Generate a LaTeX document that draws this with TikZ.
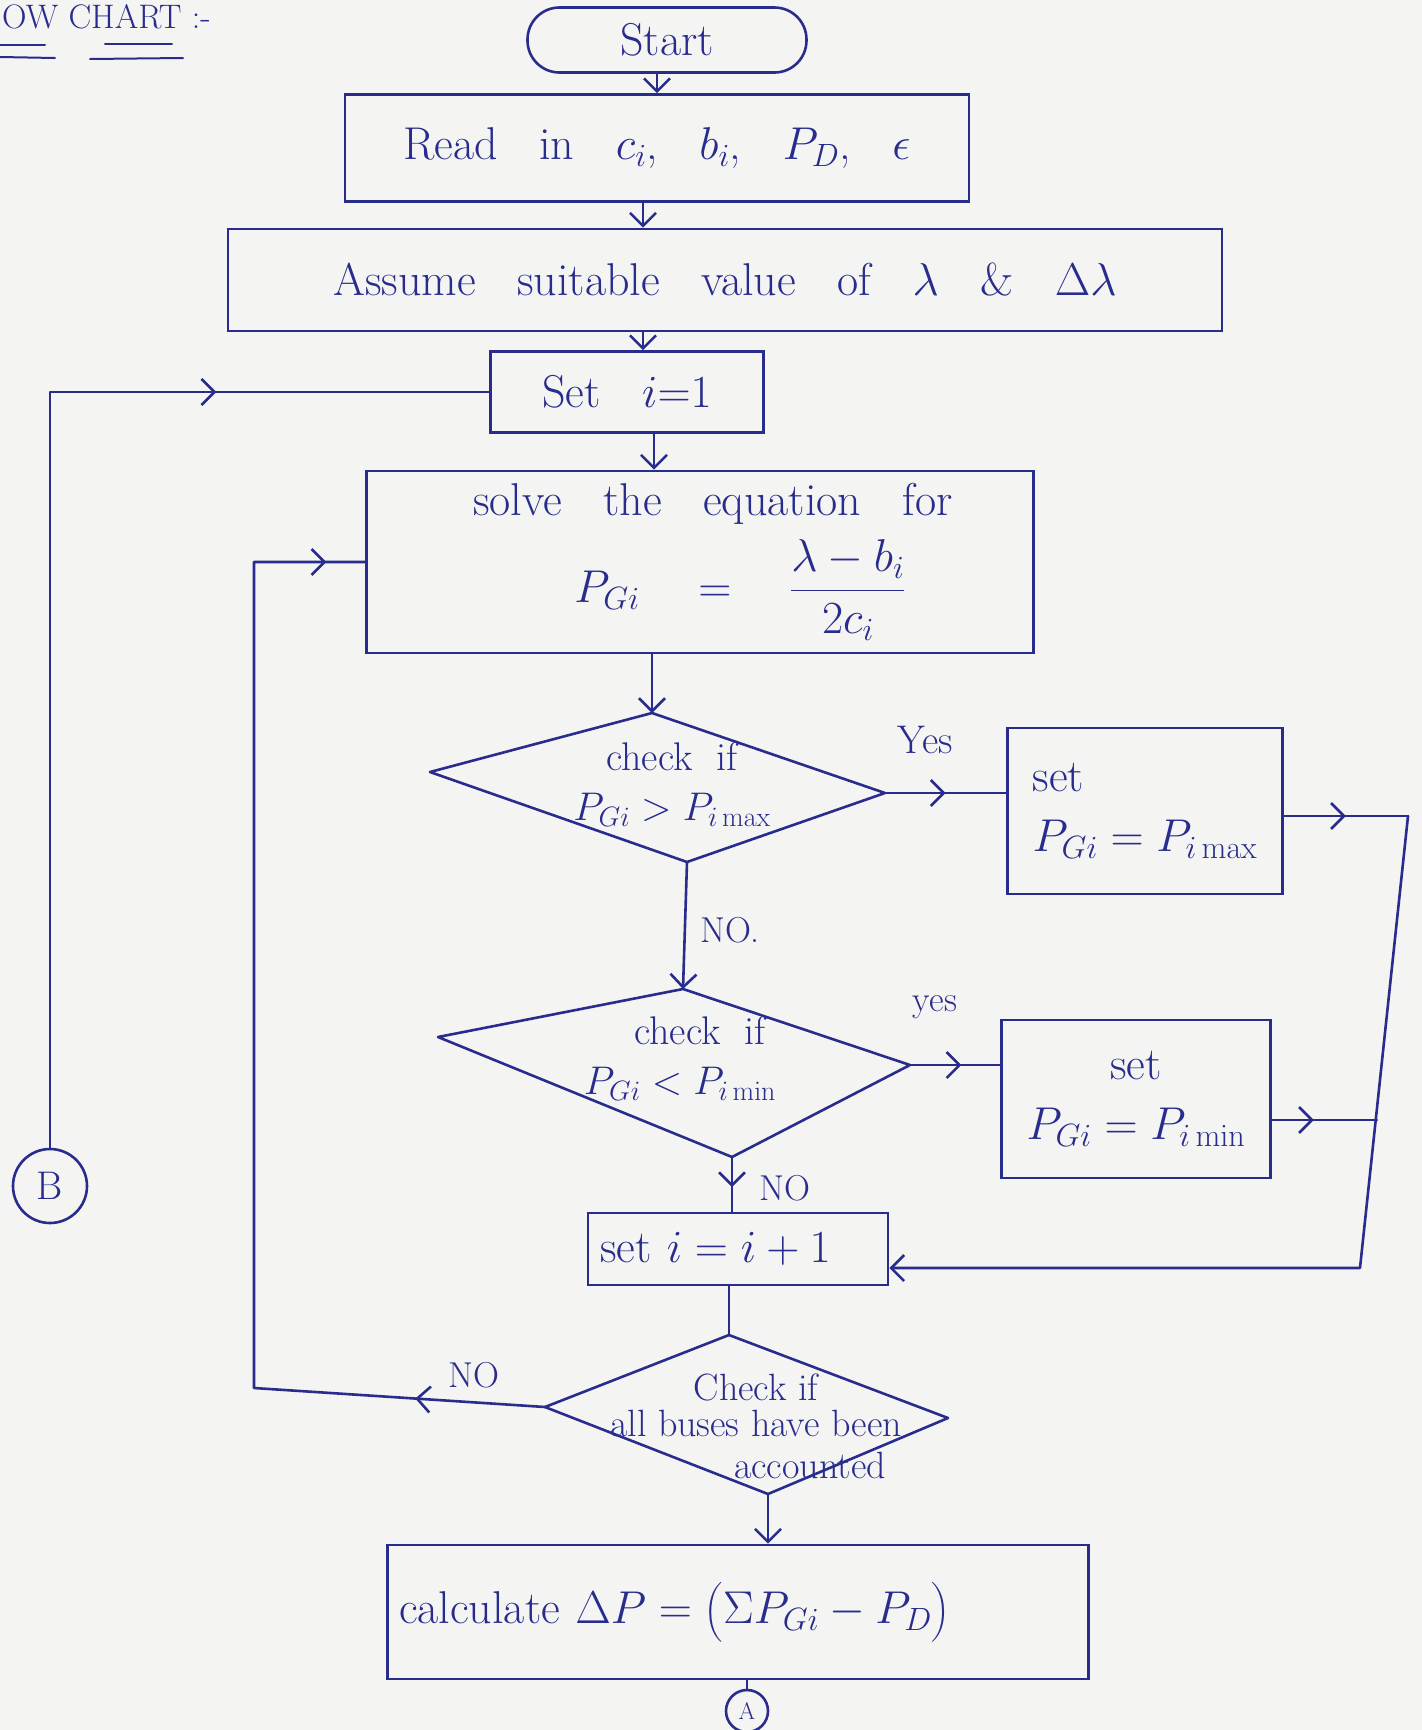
\RequirePackage{fix-cm}
\documentclass[tikz,border=0pt]{standalone}
\usepackage{amsmath}
\usetikzlibrary{arrows.meta,decorations.markings,calc}

\definecolor{ink}{RGB}{40,44,140}
\definecolor{paper}{RGB}{244,244,242}

% font sizes (1pt = 1 unit of the drawing)
\newcommand\fsbig{\fontsize{46}{54}\selectfont\spaceskip=0.9em plus 0.2em\relax}
\newcommand\fsmid{\fontsize{40}{50}\selectfont\spaceskip=0.6em plus 0.2em\relax}
\newcommand\fsdia{\fontsize{38}{36}\selectfont}
\newcommand\fssmall{\fontsize{36}{42}\selectfont}
\newcommand\fstiny{\fontsize{24}{28}\selectfont}
\newcommand\fstitle{\fontsize{34}{40}\selectfont}

\tikzset{
  chevron/.tip={Straight Barb[length=13pt,width=26pt]},
  flowline/.style={draw=ink, line width=2.6pt, line cap=round, line join=round},
  arr/.style={flowline, -{chevron}},
  chev at/.style={postaction={decorate,decoration={markings,
      mark=at position #1 with {\arrow{chevron}}}}},
  box/.style={draw=ink, line width=2.6pt, rectangle, inner sep=0pt,
      text=ink, font=\fsbig},
  lbl/.style={text=ink, inner sep=0pt},
  conn/.style={circle, draw=ink, line width=2.6pt, inner sep=0pt, text=ink},
}

\begin{document}
\begin{tikzpicture}[x=1pt,y=-1pt]
\useasboundingbox (0,0) rectangle (1422,1730);
\fill[paper] (0,0) rectangle (1422,1730);

% heading
\node[lbl, font=\fstitle, anchor=base west] (title) at (2,28) {OW CHART :-};
\draw[flowline, line width=2pt] (0,45) -- (45,45);
\draw[flowline, line width=2pt] (0,57) -- (55,58);
\draw[flowline, line width=2pt] (105,44) -- (172,44);
\draw[flowline, line width=2pt] (90,59) -- (183,58);

% process boxes
\node[box, rounded corners=32pt, minimum width=279pt, minimum height=65pt] (start) at (667,40) {Start};
\node[box, minimum width=624pt, minimum height=107pt] (read) at (657,148)
  {Read in $c_i$, $b_i$, $P_D$, $\epsilon$};
\node[box, minimum width=994pt, minimum height=102pt] (assume) at (725,280)
  {Assume suitable value of $\lambda$ \& $\Delta\lambda$};
\node[box, minimum width=273pt, minimum height=81pt] (seti) at (627,392) {Set $i{=}1$};
\node[box, minimum width=667pt, minimum height=182pt, align=center] (solve) at (700,562)
  {\hspace*{26pt}solve the equation for\\[14pt]
   \hspace*{80pt}$P_{Gi}\quad=\quad\dfrac{\lambda-b_i}{2c_i}$};
\node[box, minimum width=275pt, minimum height=166pt, align=left] (pmax) at (1145,811)
  {set\\[6pt] $P_{Gi} = P_{i\,\mathrm{max}}$};
\node[box, minimum width=269pt, minimum height=158pt, align=center] (pmin) at (1136,1099)
  {set\\[6pt] $P_{Gi} = P_{i\,\mathrm{min}}$};
\node[box, minimum width=300pt, minimum height=72pt, text width=276pt, align=left] (inc) at (738,1249)
  {set $i = i+1$};
\node[box, minimum width=701pt, minimum height=134pt, text width=678pt, align=left] (calc) at (738,1612)
  {calculate $\Delta P = \bigl(\Sigma P_{Gi} - P_D\bigr)$};

% decision diamonds
\coordinate (d1l) at (430,772);  \coordinate (d1t) at (652,713);
\coordinate (d1r) at (885,793);  \coordinate (d1b) at (687,862);
\coordinate (d2l) at (438,1037); \coordinate (d2t) at (683,989);
\coordinate (d2r) at (910,1065); \coordinate (d2b) at (732,1157);
\coordinate (d3l) at (545,1407); \coordinate (d3t) at (729,1335);
\coordinate (d3r) at (948,1418); \coordinate (d3b) at (768,1494);
\draw[flowline] (d1l) -- (d1t) -- (d1r) -- (d1b) -- cycle;
\draw[flowline] (d2l) -- (d2t) -- (d2r) -- (d2b) -- cycle;
\draw[flowline] (d3l) -- (d3t) -- (d3r) -- (d3b) -- cycle;
\node[lbl, font=\fsmid, align=center] (d1txt) at (672,784)
  {check if\\ $P_{Gi} > P_{i\,\mathrm{max}}$};
\node[lbl, font=\fsmid, align=center] (d2txt) at (690,1058)
  {\hspace*{20pt}check if\\ $P_{Gi} < P_{i\,\mathrm{min}}$\hspace*{20pt}};
\node[lbl, font=\fsdia, align=center] (d3txt) at (756,1426)
  {Check if\\ all buses have been\\[6pt] \hspace*{108pt}accounted};

% branch labels
\node[lbl, font=\fsmid] (yes1) at (925,740) {Yes};
\node[lbl, font=\fssmall] (yes2) at (935,1007) {yes};
\node[lbl, font=\fssmall] (no1) at (730,930) {NO.};
\node[lbl, font=\fssmall] (no2) at (785,1188) {NO};
\node[lbl, font=\fssmall] (no3) at (474,1375) {NO};

% off-page connectors
\node[conn, minimum size=74pt, font=\fsmid] (conB) at (50,1186) {B};
\node[conn, minimum size=42pt, font=\fstiny] (conA) at (747,1711) {A};

% main flow
\draw[arr] ([xshift=-10pt]start.south) -- ([xshift=-10pt]start.south |- read.north);
\draw[arr] ([xshift=-14pt]read.south) -- ([xshift=-14pt]read.south |- assume.north);
\draw[arr] ([xshift=-82pt]assume.south) -- ([xshift=-82pt]assume.south |- seti.north);
\draw[arr] ([xshift=27pt]seti.south) -- ([xshift=27pt]seti.south |- solve.north);
\draw[arr] (solve.south -| d1t) -- (d1t);
\draw[arr] (d1b) -- (d2t);
\draw[flowline, chev at=0.55] (d2b) -- (d2b |- inc.north);
\draw[flowline] (inc.south -| d3t) -- (d3t);
\draw[arr] (d3b) -- (d3b |- calc.north);
\draw[flowline] (conA.north |- calc.south) -- (conA.north);

% limit branches and return to the increment box
\coordinate (rtop) at (1408,816);
\coordinate (rmid) at (1377,1120);
\coordinate (rbot) at (1360,1268);
\draw[flowline, chev at=0.5] (d1r) -- (d1r -| pmax.west);
\draw[flowline, chev at=0.5] (rtop -| pmax.east) -- (rtop);
\draw[arr] (rtop) -- (rbot) -- (rbot -| inc.east);
\draw[flowline, chev at=0.57] (d2r) -- (d2r -| pmin.west);
\draw[flowline, chev at=0.4] (rmid -| pmin.east) -- (rmid);

% loop back for the next bus
\coordinate (lbot) at (254,1388);
\coordinate (ltop) at (254,562);
\draw[flowline, chev at=130pt, chev at=1190pt] (d3l) -- (lbot) -- (ltop) -- (solve.west);

% entry from connector B
\coordinate (btop) at (50,392);
\draw[flowline, chev at=922pt] (conB.north) -- (btop) -- (seti.west);
\end{tikzpicture}
\end{document}
